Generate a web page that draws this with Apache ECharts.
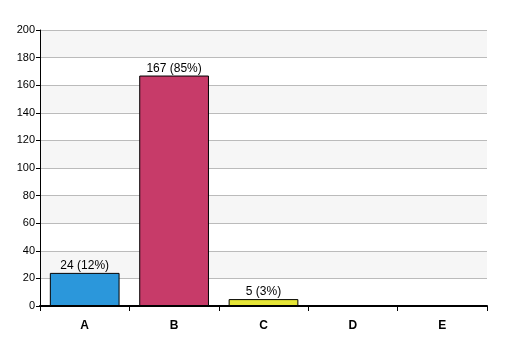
<!DOCTYPE html>
<html><head><meta charset="utf-8">
<script src="https://cdn.jsdelivr.net/npm/echarts@6/dist/echarts.min.js"></script>
<style>html,body{margin:0;padding:0;background:#fff}#c{width:507px;height:356px}</style>
</head><body><div id="c"></div>
<script>
const categories = ['A', 'B', 'C', 'D', 'E'];
const values = [24, 167, 5, 0, 0];
const percents = ['12%', '85%', '3%', '0%', '0%'];
const colors = ['#2b97db', '#c73b69', '#e5e536', '#888888', '#888888'];
const yTicks = [0, 20, 40, 60, 80, 100, 120, 140, 160, 180, 200];

const chart = echarts.init(document.getElementById('c'), null, {renderer: 'canvas'});
chart.setOption({
  animation: false,
  grid: {left: 40, right: 20, top: 30, bottom: 50},
  xAxis: {
    type: 'category',
    data: categories,
    axisLine: {lineStyle: {color: '#000', width: 2}},
    axisTick: {show: true, alignWithLabel: false, length: 5, lineStyle: {color: '#000'}},
    axisLabel: {color: '#000', fontWeight: 'bold', fontSize: 12, fontFamily: 'Liberation Sans', margin: 14}
  },
  yAxis: {
    type: 'value',
    min: yTicks[0], max: yTicks[yTicks.length - 1], interval: 20,
    axisLine: {show: true, lineStyle: {color: '#000', width: 1}},
    axisTick: {show: true, length: 4, lineStyle: {color: '#000'}},
    axisLabel: {color: '#000', fontSize: 11, fontFamily: 'Liberation Sans', margin: 5},
    splitLine: {show: true, lineStyle: {color: '#bbbbbb', width: 1}},
    splitArea: {show: true, areaStyle: {color: ['#ffffff', '#f6f6f6']}}
  },
  series: [{
    type: 'bar',
    barWidth: '78%',
    data: values.map((v, i) => ({
      value: v,
      itemStyle: {color: colors[i], borderColor: '#000', borderWidth: 1},
      label: {show: v > 0}
    })),
    label: {
      position: 'top', distance: 1, color: '#000', fontSize: 12, fontFamily: 'Liberation Sans',
      formatter: p => values[p.dataIndex] + ' (' + percents[p.dataIndex] + ')'
    }
  }]
});
</script></body></html>
